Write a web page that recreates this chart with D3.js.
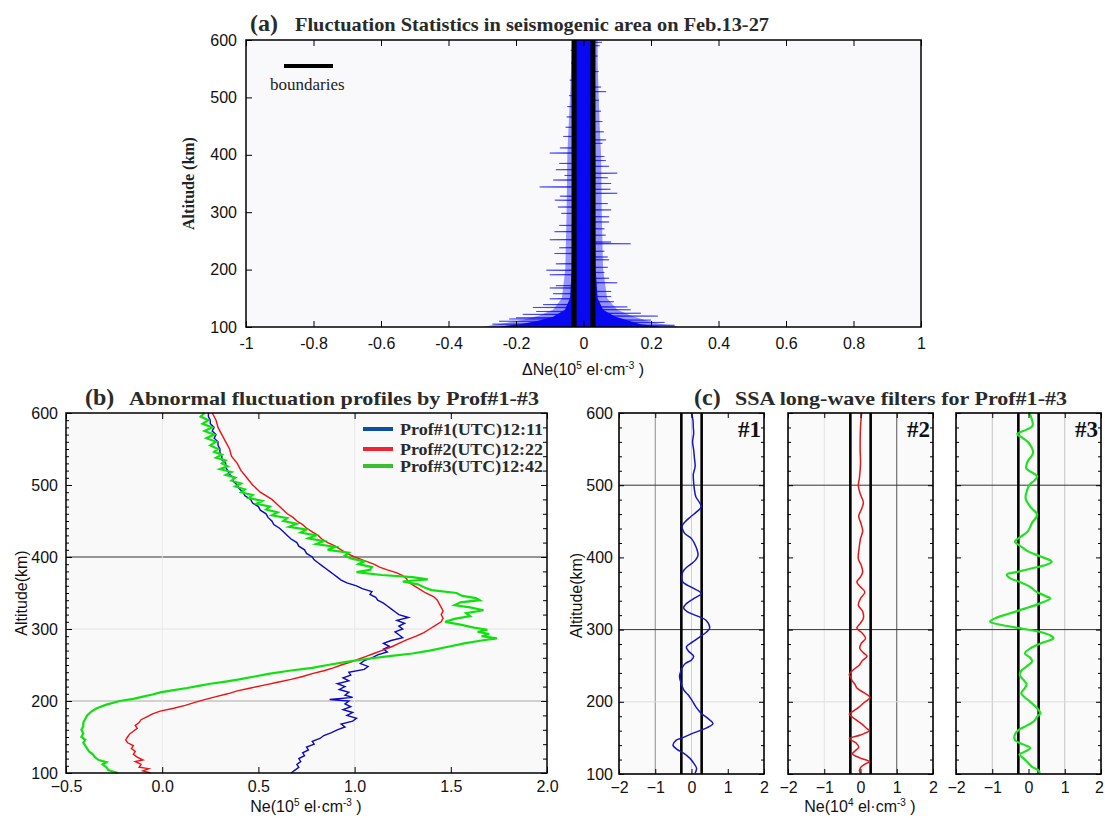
<!DOCTYPE html>
<html>
<head>
<meta charset="utf-8">
<script src="https://cdn.jsdelivr.net/npm/d3@7"></script>
<style>
html, body { margin: 0; padding: 0; background: #fff; }
svg { display: block; }
</style>
</head>
<body>
<svg id="fig" width="1105" height="818"></svg>
<script>
const SANS = "'Liberation Sans', Arial, sans-serif";
const SERIF = "'Liberation Serif', 'Times New Roman', serif";

// ---------------- (a) fluctuation statistics ----------------
const aXTicks = [-1, -0.8, -0.6, -0.4, -0.2, 0, 0.2, 0.4, 0.6, 0.8, 1];
const altTicks = [100, 200, 300, 400, 500, 600];
const boundaryA = 0.028;             // 10^5 el/cm^3
// dense core of the overlaid ΔNe traces: [altitude, min, max]
const bandCore = [
  [600, -0.030, 0.032], [550, -0.030, 0.032], [500, -0.031, 0.033], [450, -0.032, 0.034],
  [400, -0.033, 0.035], [300, -0.034, 0.035], [200, -0.035, 0.036], [150, -0.040, 0.042],
  [130, -0.055, 0.058], [118, -0.090, 0.095], [110, -0.140, 0.140], [105, -0.190, 0.170],
  [102, -0.230, 0.210], [100, -0.250, 0.230]
];
// looser fringe of the traces around the core: [altitude, min, max]
const bandFringe = [
  [600, -0.034, 0.042], [560, -0.036, 0.042], [500, -0.040, 0.045], [450, -0.044, 0.048],
  [400, -0.048, 0.052], [300, -0.050, 0.054], [200, -0.054, 0.058], [150, -0.064, 0.070],
  [130, -0.090, 0.100], [120, -0.130, 0.140], [112, -0.180, 0.180], [106, -0.240, 0.220],
  [102, -0.280, 0.270], [100, -0.300, 0.280]
];
// isolated excursions of single traces: [altitude, ΔNe]
const spikes = [
  [596, 0.055], [590, 0.048], [582, -0.038], [572, 0.042], [560, -0.037], [545, 0.045],
  [530, -0.041], [518, 0.052], [510, 0.067], [503, -0.043], [495, 0.046], [484, -0.048],
  [476, 0.052], [466, -0.050], [458, 0.056], [448, -0.053], [440, 0.060], [432, -0.060],
  [426, 0.067], [420, 0.056], [412, -0.070], [403, -0.100], [397, 0.062], [390, 0.066],
  [385, -0.072], [380, 0.076], [374, -0.082], [368, 0.100], [364, -0.056], [360, 0.072],
  [356, -0.090], [350, 0.082], [344, -0.130], [340, 0.080], [333, 0.100], [328, -0.070],
  [321, -0.085], [315, 0.072], [309, -0.076], [304, 0.082], [298, -0.066], [292, 0.076],
  [283, 0.076], [277, -0.072], [271, 0.062], [266, -0.086], [260, 0.066], [252, -0.100],
  [248, 0.082], [245, 0.140], [238, -0.072], [232, 0.062], [228, -0.086], [222, 0.072],
  [217, 0.076], [210, -0.082], [204, 0.072], [199, -0.110], [195, 0.062], [191, -0.100],
  [185, 0.076], [177, 0.100], [172, -0.082], [168, -0.100], [162, 0.082], [158, -0.090],
  [153, 0.082], [149, -0.100], [144, 0.090], [139, -0.120], [135, 0.130], [134, -0.150],
  [130, 0.140], [127, -0.140], [124, 0.170], [122, -0.180], [119, 0.220], [116, -0.200],
  [114, -0.220], [112, 0.200], [110, -0.250], [108, 0.240], [105, -0.270], [103, 0.270]
];

// ---------------- (b) Ne profiles: [altitude km, Ne 10^5 el/cm^3] ----------------
const bXTicks = [-0.5, 0, 0.5, 1, 1.5, 2];
const prof1 = [
  [100,0.67],[104,0.69],[108,0.71],[112,0.70],[116,0.72],[120,0.71],[124,0.74],[128,0.73],
  [132,0.76],[136,0.75],[140,0.79],[144,0.78],[148,0.82],[152,0.84],[156,0.88],[160,0.91],
  [164,0.95],[168,0.93],[172,0.99],[176,1.01],[180,0.96],[184,0.99],[188,0.94],[192,0.98],
  [196,0.95],[200,0.97],[202,0.87],[205,0.99],[208,0.95],[212,0.97],[216,0.92],[220,0.95],
  [224,0.91],[228,0.97],[232,0.94],[236,0.98],[240,0.97],[244,1.05],[248,1.07],[252,1.03],
  [256,1.05],[260,1.09],[264,1.12],[268,1.17],[272,1.15],[276,1.18],[280,1.15],[284,1.19],
  [288,1.25],[292,1.23],[296,1.21],[300,1.25],[304,1.23],[308,1.26],[312,1.22],[316,1.28],
  [320,1.23],[324,1.21],[328,1.19],[332,1.17],[336,1.15],[340,1.12],[344,1.11],[348,1.08],
  [352,1.09],[356,1.04],[360,1.01],[364,0.96],[368,0.93],[372,0.91],[376,0.89],[380,0.87],
  [384,0.85],[388,0.83],[392,0.81],[396,0.79],[400,0.78],[405,0.75],[410,0.74],[415,0.71],
  [420,0.70],[425,0.67],[430,0.65],[435,0.63],[440,0.61],[445,0.58],[450,0.57],[455,0.55],
  [460,0.54],[465,0.51],[470,0.50],[475,0.47],[480,0.46],[485,0.43],[490,0.42],[495,0.40],
  [500,0.39],[505,0.37],[510,0.37],[515,0.35],[520,0.34],[525,0.33],[530,0.33],[535,0.31],
  [540,0.31],[545,0.30],[550,0.30],[555,0.29],[560,0.29],[565,0.27],[570,0.28],[575,0.26],
  [580,0.27],[585,0.25],[590,0.25],[595,0.24],[600,0.24]
];
const prof2 = [
  [100,-0.06],[103,-0.10],[106,-0.07],[108,-0.12],[112,-0.11],[116,-0.14],[118,-0.10],
  [122,-0.13],[126,-0.15],[130,-0.14],[134,-0.16],[138,-0.15],[142,-0.18],[146,-0.19],
  [150,-0.18],[154,-0.17],[158,-0.15],[162,-0.13],[166,-0.14],[170,-0.12],[174,-0.11],
  [178,-0.08],[182,-0.05],[186,-0.01],[190,0.06],[194,0.12],[198,0.17],[202,0.22],
  [206,0.28],[210,0.34],[214,0.39],[218,0.46],[222,0.53],[226,0.60],[230,0.67],[234,0.73],
  [238,0.78],[242,0.84],[246,0.89],[250,0.93],[254,0.98],[258,1.02],[262,1.06],[266,1.10],
  [270,1.14],[275,1.19],[280,1.23],[285,1.27],[290,1.32],[295,1.36],[300,1.39],[305,1.42],
  [310,1.45],[315,1.46],[320,1.45],[325,1.46],[330,1.45],[335,1.44],[340,1.43],[345,1.41],
  [350,1.37],[355,1.34],[360,1.31],[365,1.28],[370,1.27],[374,1.25],[378,1.22],[382,1.17],
  [386,1.13],[390,1.10],[395,1.05],[400,1.00],[405,0.96],[410,0.93],[415,0.90],[420,0.86],
  [425,0.83],[430,0.81],[435,0.78],[440,0.75],[445,0.73],[450,0.70],[455,0.68],[460,0.65],
  [470,0.61],[480,0.57],[490,0.51],[500,0.47],[510,0.44],[520,0.41],[530,0.39],[540,0.36],
  [550,0.35],[560,0.33],[570,0.31],[580,0.29],[590,0.28],[600,0.26]
];
const prof3 = [
  [100,-0.23],[104,-0.28],[108,-0.29],[112,-0.31],[115,-0.29],[118,-0.33],[122,-0.35],
  [126,-0.36],[130,-0.38],[134,-0.39],[138,-0.40],[142,-0.41],[146,-0.40],[150,-0.42],
  [155,-0.41],[160,-0.42],[165,-0.41],[170,-0.41],[175,-0.40],[180,-0.39],[185,-0.37],
  [190,-0.34],[195,-0.29],[200,-0.22],[203,-0.15],[206,-0.10],[209,-0.05],[212,-0.01],
  [215,0.06],[218,0.13],[221,0.19],[224,0.25],[227,0.33],[230,0.40],[234,0.48],[238,0.56],
  [242,0.66],[246,0.78],[250,0.86],[254,0.95],[258,1.05],[262,1.17],[266,1.30],[270,1.39],
  [275,1.48],[280,1.57],[284,1.66],[287,1.74],[290,1.66],[293,1.70],[296,1.64],[299,1.69],
  [302,1.62],[306,1.55],[310,1.47],[314,1.52],[318,1.60],[322,1.58],[326,1.67],[330,1.60],
  [333,1.52],[337,1.55],[340,1.65],[343,1.63],[346,1.56],[350,1.53],[354,1.40],[358,1.36],
  [362,1.33],[366,1.25],[369,1.38],[372,1.30],[375,1.14],[379,1.01],[382,1.08],[386,1.09],
  [390,1.02],[394,1.05],[398,0.98],[402,0.95],[406,0.97],[410,0.86],[414,0.90],[418,0.80],
  [422,0.84],[426,0.76],[430,0.80],[434,0.72],[438,0.75],[442,0.66],[446,0.70],[450,0.63],
  [454,0.65],[458,0.57],[462,0.60],[466,0.54],[470,0.56],[474,0.49],[478,0.52],[482,0.45],
  [486,0.47],[490,0.41],[494,0.43],[498,0.38],[502,0.41],[506,0.36],[510,0.38],[514,0.33],
  [518,0.36],[522,0.30],[526,0.34],[530,0.31],[534,0.33],[538,0.28],[542,0.31],[546,0.27],
  [550,0.29],[555,0.25],[560,0.28],[565,0.23],[570,0.27],[575,0.22],[580,0.26],[585,0.21],
  [590,0.24],[595,0.20],[600,0.22]
];
const legendLabels = ["Prof#1(UTC)12:11", "Prof#2(UTC)12:22", "Prof#3(UTC)12:42"];

// ---------------- (c) SSA long-wave components: [altitude km, Ne 10^4 el/cm^3] ----------------
const cXTicks = [-2, -1, 0, 1, 2];
const boundaryC = 0.28;
const ssa1 = [
  [101,0.10],[108,0.14],[115,0.06],[122,-0.05],[129,-0.22],[134,-0.40],[140,-0.51],[147,-0.42],
  [150,-0.25],[157,0.06],[164,0.42],[170,0.59],[177,0.45],[184,0.27],[193,0.12],[203,0.00],
  [210,-0.10],[217,-0.22],[228,-0.30],[235,-0.33],[240,-0.31],[247,-0.26],[253,-0.17],[258,0.00],
  [263,0.06],[270,-0.08],[276,-0.14],[283,0.03],[290,0.23],[296,0.40],[302,0.50],[313,0.40],
  [319,0.15],[325,-0.12],[330,-0.22],[336,-0.14],[343,0.06],[350,0.27],[358,0.02],[366,-0.24],
  [373,-0.27],[380,-0.24],[386,-0.14],[392,0.02],[397,0.12],[403,0.18],[415,0.12],[426,0.00],
  [434,-0.20],[443,-0.26],[449,-0.18],[456,-0.03],[463,0.14],[470,0.27],[476,0.22],[484,0.12],
  [494,0.08],[503,0.06],[515,0.05],[526,0.10],[538,0.08],[549,0.06],[560,0.03],[572,0.06],
  [580,0.05],[590,0.04],[600,0.00]
];
const ssa2 = [
  [101,0.00],[105,-0.03],[110,0.02],[113,0.10],[117,0.24],[122,0.00],[128,-0.22],[132,-0.15],
  [137,-0.05],[143,-0.12],[149,-0.31],[154,0.00],[160,0.24],[164,0.15],[169,0.04],[176,-0.15],
  [183,-0.31],[187,-0.20],[192,-0.06],[199,0.10],[206,0.26],[213,0.08],[219,-0.10],[224,-0.15],
  [229,-0.23],[233,-0.26],[238,-0.31],[245,-0.18],[251,-0.03],[257,0.05],[263,0.18],[268,0.08],
  [274,-0.02],[281,0.02],[288,0.14],[295,0.05],[302,-0.10],[309,0.00],[316,0.08],[325,0.06],
  [334,-0.06],[343,0.00],[352,0.12],[359,0.00],[366,-0.10],[373,0.00],[380,0.06],[389,0.02],
  [398,-0.06],[412,-0.04],[426,0.00],[436,0.06],[446,0.02],[457,-0.05],[466,0.02],[476,0.08],
  [487,0.00],[499,-0.06],[510,-0.03],[530,0.00],[549,-0.01],[560,-0.01],[580,0.00],[600,0.03]
];
const ssa3 = [
  [100,0.30],[104,0.29],[110,0.10],[115,0.00],[121,-0.12],[127,-0.25],[131,-0.10],[136,0.05],
  [141,-0.15],[147,-0.37],[154,-0.38],[161,-0.27],[167,-0.05],[173,0.15],[180,0.25],[184,0.33],
  [187,0.30],[193,0.20],[200,0.05],[206,-0.10],[212,-0.20],[219,-0.10],[224,-0.05],[231,-0.15],
  [237,-0.24],[243,-0.20],[249,-0.05],[256,0.10],[261,0.05],[267,-0.10],[274,0.05],[282,0.40],
  [288,0.69],[292,0.60],[297,0.30],[302,-0.25],[306,-0.70],[311,-1.06],[316,-0.90],[322,-0.55],
  [329,-0.10],[336,0.30],[343,0.60],[347,0.45],[353,0.20],[359,0.05],[366,-0.25],[371,-0.50],
  [376,-0.60],[380,-0.30],[385,0.10],[389,0.45],[394,0.64],[401,0.35],[408,0.00],[415,-0.20],
  [422,-0.37],[429,-0.20],[436,-0.02],[448,0.10],[459,0.24],[470,0.05],[482,-0.08],[491,-0.05],
  [500,0.02],[506,0.15],[512,0.24],[517,0.12],[523,-0.06],[529,-0.05],[535,0.00],[540,0.08],
  [546,0.13],[553,0.08],[560,-0.02],[565,-0.15],[571,-0.31],[577,-0.05],[582,0.11],[590,0.10],
  [598,0.04],[600,0.00]
];

// ------------------------------------------------------------
const svg = d3.select("#fig");

function styleAxis(g, fontSize) {
  g.select(".domain").remove();
  g.selectAll(".tick line").attr("stroke", "#000").attr("stroke-width", 1);
  g.selectAll(".tick text").attr("font-family", SANS).attr("font-size", fontSize).attr("fill", "#111");
}
function addAxis(parent, gen, tx, ty, fontSize = 16) {
  return parent.append("g").attr("transform", `translate(${tx},${ty})`).call(gen).call(styleAxis, fontSize);
}
function supLabel(parent, x, y, parts) {
  // parts: [text, isSuperscript]
  const t = parent.append("text").attr("x", x).attr("y", y).attr("text-anchor", "middle")
    .attr("font-family", SANS).attr("font-size", 16).attr("fill", "#111");
  parts.forEach(([s, sup]) => {
    const ts = t.append("tspan").text(s);
    if (sup) ts.attr("font-size", 10).attr("baseline-shift", "60%");
  });
  return t;
}
function title(parent, x, y, tag, text, gap, textLen) {
  parent.append("text").attr("x", x).attr("y", y).attr("font-family", SERIF).attr("font-weight", "bold")
    .attr("font-size", 24).attr("fill", "#2a2a2a").text(tag);
  parent.append("text").attr("x", x + gap).attr("y", y).attr("font-family", SERIF).attr("font-weight", "bold")
    .attr("font-size", 19).attr("fill", "#2a2a2a").attr("textLength", textLen)
    .attr("lengthAdjust", "spacingAndGlyphs").text(text);
}

// ================= panel (a) =================
{
  const x = d3.scaleLinear().domain([-1, 1]).range([246, 921]);
  const y = d3.scaleLinear().domain([100, 600]).range([327, 40]);
  const g = svg.append("g");
  g.append("rect").attr("x", x(-1)).attr("y", y(600)).attr("width", x(1) - x(-1)).attr("height", y(100) - y(600))
    .attr("fill", "#f9f9fb");

  const area = d3.area().curve(d3.curveLinear).y(d => y(d[0])).x0(d => x(d[1])).x1(d => x(d[2]));
  g.append("path").datum(bandFringe).attr("d", area).attr("fill", "#1a1aff").attr("fill-opacity", 0.45);
  g.append("path").datum(bandCore).attr("d", area).attr("fill", "#0808f2");

  const wedge = d => {
    const [alt, v] = d;
    return `M${x(0)},${y(alt + 0.9)}L${x(v)},${y(alt)}L${x(0)},${y(alt - 0.9)}Z`;
  };
  g.append("g").selectAll("path").data(spikes).join("path").attr("d", wedge)
    .attr("fill", "#0a0af0").attr("stroke", "#0a0af0").attr("stroke-width", 0.5);

  [-boundaryA, boundaryA].forEach(b => {
    g.append("line").attr("x1", x(b)).attr("x2", x(b)).attr("y1", y(600)).attr("y2", y(100))
      .attr("stroke", "#000").attr("stroke-width", 5);
  });

  g.append("rect").attr("x", x(-1)).attr("y", y(600)).attr("width", x(1) - x(-1)).attr("height", y(100) - y(600))
    .attr("fill", "none").attr("stroke", "#000").attr("stroke-width", 1.5);

  addAxis(g, d3.axisBottom(x).tickValues(aXTicks).tickSize(-6).tickPadding(11).tickFormat(d => String(d)), 0, y(100));
  addAxis(g, d3.axisTop(x).tickValues(aXTicks).tickSize(-6).tickFormat(""), 0, y(600));
  addAxis(g, d3.axisLeft(y).tickValues(altTicks).tickSize(-6).tickPadding(9).tickFormat(d3.format("d")), x(-1), 0);

  // legend for the boundary lines
  g.append("line").attr("x1", 284).attr("x2", 333).attr("y1", 66).attr("y2", 66).attr("stroke", "#000").attr("stroke-width", 4);
  g.append("text").attr("x", 270).attr("y", 90).attr("font-family", SERIF).attr("font-size", 17).attr("fill", "#222").text("boundaries");

  g.append("text").attr("transform", `translate(194,${(y(600) + y(100)) / 2}) rotate(-90)`).attr("text-anchor", "middle")
    .attr("font-family", SERIF).attr("font-weight", "bold").attr("font-size", 16).attr("fill", "#222").text("Altitude (km)");
  supLabel(g, 583, 375, [["ΔNe(10", null], ["5", 1], [" el·cm", null], ["-3", 1], [" )", null]]);
  title(g, 250, 31, "(a)", "Fluctuation Statistics in seismogenic area on Feb.13-27", 45, 474);
}

// ================= panel (b) =================
{
  const x = d3.scaleLinear().domain([-0.5, 2]).range([66, 547]);
  const y = d3.scaleLinear().domain([100, 600]).range([773, 413]);
  const g = svg.append("g");
  g.append("rect").attr("x", x(-0.5)).attr("y", y(600)).attr("width", x(2) - x(-0.5)).attr("height", y(100) - y(600))
    .attr("fill", "#f9f9f9");

  // reference lines
  [[300, "#e3e3e3", 1], [200, "#a8a8a8", 1], [400, "#333", 1]].forEach(([a, c, w]) => {
    g.append("line").attr("x1", x(-0.5)).attr("x2", x(2)).attr("y1", y(a)).attr("y2", y(a)).attr("stroke", c).attr("stroke-width", w);
  });
  [0, 1].forEach(v => {
    g.append("line").attr("x1", x(v)).attr("x2", x(v)).attr("y1", y(600)).attr("y2", y(100)).attr("stroke", "#e8e8e8");
  });

  const line = d3.line().x(d => x(d[1])).y(d => y(d[0]));
  g.append("path").datum(prof1).attr("d", line).attr("fill", "none").attr("stroke", "#0a0ac4").attr("stroke-width", 1.4);
  g.append("path").datum(prof2).attr("d", line).attr("fill", "none").attr("stroke", "#ee1111").attr("stroke-width", 1.4);
  g.append("path").datum(prof3).attr("d", line).attr("fill", "none").attr("stroke", "#10e010").attr("stroke-width", 2.2);

  g.append("rect").attr("x", x(-0.5)).attr("y", y(600)).attr("width", x(2) - x(-0.5)).attr("height", y(100) - y(600))
    .attr("fill", "none").attr("stroke", "#000").attr("stroke-width", 1.5);

  const minor10 = d3.range(110, 600, 10).filter(d => d % 100 !== 0);
  const minor20 = d3.range(120, 600, 20).filter(d => d % 100 !== 0);
  addAxis(g, d3.axisBottom(x).tickValues(bXTicks).tickSize(-6).tickPadding(8).tickFormat(d3.format(".1f")), 0, y(100));
  addAxis(g, d3.axisTop(x).tickValues(bXTicks).tickSize(-6).tickFormat(""), 0, y(600));
  addAxis(g, d3.axisLeft(y).tickValues(altTicks).tickSize(-6).tickPadding(8).tickFormat(d3.format("d")), x(-0.5), 0);
  addAxis(g, d3.axisLeft(y).tickValues(minor10).tickSize(-3).tickFormat(""), x(-0.5), 0);
  addAxis(g, d3.axisRight(y).tickValues(altTicks).tickSize(-6).tickFormat(""), x(2), 0);
  addAxis(g, d3.axisRight(y).tickValues(minor20).tickSize(-4).tickFormat(""), x(2), 0);

  // legend
  const legendColors = ["#0b4f9f", "#f42230", "#3cbf2e"];
  const legendY = [429, 449, 466];
  legendLabels.forEach((lab, i) => {
    g.append("line").attr("x1", 363).attr("x2", 393).attr("y1", legendY[i]).attr("y2", legendY[i])
      .attr("stroke", legendColors[i]).attr("stroke-width", 4);
    g.append("text").attr("x", 400).attr("y", legendY[i] + 6).attr("font-family", SERIF).attr("font-weight", "bold")
      .attr("font-size", 17).attr("fill", "#2a2a2a").attr("textLength", 143).attr("lengthAdjust", "spacingAndGlyphs").text(lab);
  });

  g.append("text").attr("transform", `translate(27,${(y(600) + y(100)) / 2}) rotate(-90)`).attr("text-anchor", "middle")
    .attr("font-family", SANS).attr("font-size", 16).attr("fill", "#111").text("Altitude(km)");
  supLabel(g, 306, 812, [["Ne(10", null], ["5", 1], [" el·cm", null], ["-3", 1], [" )", null]]);
  title(g, 85, 405, "(b)", "Abnormal fluctuation profiles by Prof#1-#3", 44, 410);
}

// ================= panel (c) =================
{
  const y = d3.scaleLinear().domain([100, 600]).range([774, 413]);
  const panels = [
    { tag: "#1", left: 619, data: ssa1, color: "#1616c8", width: 1.5, grid: [[-1, "#8c8c8c"], [0, "#d2d2d2"]] },
    { tag: "#2", left: 788, data: ssa2, color: "#e01818", width: 1.5, grid: [[-1, "#e2e2e2"], [1, "#555"]] },
    { tag: "#3", left: 956, data: ssa3, color: "#22e022", width: 2.2, grid: [[-1, "#c4c4c4"], [1, "#c4c4c4"]] }
  ];
  const minor20 = d3.range(120, 600, 20).filter(d => d % 100 !== 0);
  panels.forEach((p, i) => {
    const x = d3.scaleLinear().domain([-2, 2]).range([p.left, p.left + 145]);
    const g = svg.append("g");
    g.append("rect").attr("x", x(-2)).attr("y", y(600)).attr("width", x(2) - x(-2)).attr("height", y(100) - y(600))
      .attr("fill", "#fafafa");
    p.grid.forEach(([v, c]) => {
      g.append("line").attr("x1", x(v)).attr("x2", x(v)).attr("y1", y(600)).attr("y2", y(100)).attr("stroke", c).attr("stroke-width", 1);
    });
    [[200, "#dddddd"], [300, "#333"], [500, "#333"]].forEach(([a, c]) => {
      g.append("line").attr("x1", x(-2)).attr("x2", x(2)).attr("y1", y(a)).attr("y2", y(a)).attr("stroke", c).attr("stroke-width", 1);
    });
    [-boundaryC, boundaryC].forEach(b => {
      g.append("line").attr("x1", x(b)).attr("x2", x(b)).attr("y1", y(600)).attr("y2", y(100))
        .attr("stroke", "#000").attr("stroke-width", 2.6);
    });
    const line = d3.line().curve(d3.curveCatmullRom.alpha(0.5)).x(d => x(d[1])).y(d => y(d[0]));
    g.append("path").datum(p.data).attr("d", line).attr("fill", "none").attr("stroke", p.color).attr("stroke-width", p.width);

    g.append("rect").attr("x", x(-2)).attr("y", y(600)).attr("width", x(2) - x(-2)).attr("height", y(100) - y(600))
      .attr("fill", "none").attr("stroke", "#000").attr("stroke-width", 1.6);

    const bottom = addAxis(g, d3.axisBottom(x).tickValues(cXTicks).tickSize(-5).tickPadding(8).tickFormat(d3.format("d")), 0, y(100));
    if (i === panels.length - 1) {
      // keep the last label inside the page
      bottom.selectAll(".tick text").filter(d => d === 2).attr("dx", -2);
    }
    addAxis(g, d3.axisTop(x).tickValues(cXTicks).tickSize(-5).tickFormat(""), 0, y(600));
    addAxis(g, d3.axisLeft(y).tickValues(minor20).tickSize(-3).tickFormat(""), x(-2), 0);
    addAxis(g, d3.axisRight(y).tickValues(minor20).tickSize(-3).tickFormat(""), x(2), 0);
    if (i === 0) {
      addAxis(g, d3.axisLeft(y).tickValues(altTicks).tickSize(-5).tickPadding(6).tickFormat(d3.format("d")), x(-2), 0);
      g.append("text").attr("transform", `translate(582,${(y(600) + y(100)) / 2 + 2}) rotate(-90)`).attr("text-anchor", "middle")
        .attr("font-family", SANS).attr("font-size", 16).attr("fill", "#111").text("Altitude(km)");
    } else {
      addAxis(g, d3.axisLeft(y).tickValues(altTicks).tickSize(-5).tickFormat(""), x(-2), 0);
    }
    addAxis(g, d3.axisRight(y).tickValues(altTicks).tickSize(-5).tickFormat(""), x(2), 0);

    g.append("text").attr("x", x(2) - 3).attr("y", 437).attr("text-anchor", "end").attr("font-family", SERIF)
      .attr("font-weight", "bold").attr("font-size", 23).attr("fill", "#111").text(p.tag);
  });
  supLabel(svg, 860, 812, [["Ne(10", null], ["4", 1], [" el·cm", null], ["-3", 1], [" )", null]]);
  title(svg.append("g"), 694, 405, "(c)", "SSA long-wave filters for Prof#1-#3", 41, 332);
}
</script>
</body>
</html>
